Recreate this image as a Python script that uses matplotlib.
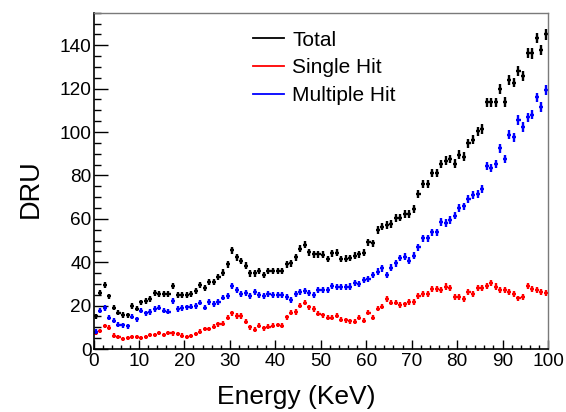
import numpy as np
import matplotlib
matplotlib.use("Agg")
import matplotlib.pyplot as plt
from matplotlib.lines import Line2D
from matplotlib.ticker import MultipleLocator

plt.rcParams['font.family'] = ['Liberation Sans', 'DejaVu Sans']

# bin edges 0..100 keV, 1 keV bins
energy = np.arange(100) + 0.5

total = [
    15.1, 25.8, 29.5, 24.2, 19.1, 16.8, 15.7, 15.5, 19.8, 18.6,
    21.5, 22.1, 22.9, 26.0, 25.5, 25.5, 25.2, 29.2, 25.0, 24.9,
    24.9, 25.4, 26.8, 29.5, 28.1, 30.8, 30.8, 33.1, 35.2, 39.1,
    45.4, 42.3, 40.6, 38.4, 34.9, 34.9, 35.9, 34.0, 36.0, 36.0,
    36.0, 36.0, 39.1, 39.5, 42.3, 46.1, 48.0, 44.6, 43.7, 43.7,
    43.4, 41.5, 44.2, 44.4, 41.5, 41.7, 41.9, 42.9, 43.7, 44.4,
    49.1, 48.8, 54.9, 56.4, 57.2, 57.7, 60.3, 60.6, 62.1, 62.1,
    64.5, 71.5, 76.1, 76.1, 81.1, 81.1, 85.2, 86.8, 87.5, 85.4,
    89.5, 88.7, 94.9, 96.4, 100.3, 101.4, 113.7, 113.7, 113.7, 119.7,
    113.9, 124.1, 122.8, 128.0, 126.0, 136.4, 136.2, 143.2, 137.8, 145.0]

single_hit = [
    7.3, 8.3, 10.6, 9.8, 6.2, 5.4, 4.8, 5.2, 5.4, 5.4,
    5.0, 5.5, 6.3, 6.3, 7.5, 6.3, 7.4, 7.2, 6.8, 6.2,
    5.7, 6.0, 6.8, 8.0, 9.2, 9.2, 10.3, 11.4, 11.7, 14.4,
    16.5, 15.2, 15.2, 12.6, 10.0, 8.9, 10.7, 9.5, 10.3, 10.8,
    11.1, 10.8, 14.6, 16.8, 17.1, 20.0, 21.4, 19.2, 18.5, 16.2,
    15.5, 14.4, 14.4, 15.4, 13.5, 13.2, 12.8, 12.5, 14.4, 13.1,
    16.8, 14.4, 18.6, 19.5, 23.2, 21.4, 21.4, 20.2, 20.6, 21.7,
    21.7, 24.6, 25.4, 25.4, 27.6, 27.5, 27.2, 28.8, 28.0, 24.1,
    24.1, 23.2, 26.2, 25.2, 28.0, 28.0, 29.2, 30.6, 28.8, 27.2,
    27.0, 26.1, 25.2, 23.3, 23.8, 29.2, 27.7, 27.2, 26.4, 26.0]

multiple_hit = [
    8.0, 17.7, 18.9, 14.4, 13.1, 11.2, 10.9, 10.5, 14.9, 13.7,
    17.7, 16.5, 17.1, 18.5, 19.1, 17.7, 17.2, 22.1, 18.5, 18.8,
    19.2, 19.5, 19.8, 21.4, 19.1, 21.8, 20.8, 21.7, 23.7, 24.5,
    29.1, 27.2, 25.4, 26.0, 24.5, 26.3, 24.8, 24.3, 25.2, 24.9,
    24.9, 24.9, 24.1, 22.6, 25.2, 26.2, 26.8, 26.0, 25.0, 27.4,
    27.4, 27.0, 28.9, 28.6, 28.4, 28.6, 28.8, 30.6, 29.8, 31.8,
    32.3, 34.1, 35.7, 37.2, 34.1, 37.5, 39.5, 41.9, 42.6, 40.7,
    42.9, 46.9, 51.1, 51.1, 53.7, 53.8, 58.5, 58.0, 59.5, 61.5,
    64.9, 65.7, 69.2, 71.1, 71.5, 73.7, 84.4, 83.4, 85.2, 92.6,
    87.5, 98.8, 97.7, 105.5, 102.3, 106.7, 108.0, 116.0, 111.5, 119.5]

labels = ["Total", "Single Hit", "Multiple Hit"]
colors = ["#000000", "#ff0000", "#0000ff"]
series = [total, single_hit, multiple_hit]

fig = plt.figure(figsize=(5.66, 4.12), dpi=100)
ax = fig.add_axes([93.5 / 566, 1 - 349 / 412, (548 - 93.5) / 566, (349 - 12.7) / 412])

for vals, col in zip(series, colors):
    v = np.asarray(vals)
    yerr = 0.6 + 0.15 * np.sqrt(v)  # statistical-style error bar size
    ax.errorbar(energy, v, xerr=0.45, yerr=yerr,
                fmt='none', ecolor=col, elinewidth=1.7, capsize=0)

ax.set_xlim(0, 100)
ax.set_ylim(0, 155)
ax.xaxis.set_major_locator(MultipleLocator(10))
ax.xaxis.set_minor_locator(MultipleLocator(2))
ax.yaxis.set_major_locator(MultipleLocator(20))
ax.yaxis.set_minor_locator(MultipleLocator(5))

ax.tick_params(axis='x', which='major', direction='in', length=6.5, width=1.0,
               labelsize=13.7, pad=3)
ax.tick_params(axis='x', which='minor', direction='in', length=3.2, width=1.0)
ax.tick_params(axis='y', which='major', direction='in', length=10, width=1.0,
               labelsize=13.7, pad=1.5)
ax.tick_params(axis='y', which='minor', direction='in', length=5, width=1.0)
ax.tick_params(top=False, right=False, which='both')

for s in ['left', 'bottom']:
    ax.spines[s].set_color('black')
    ax.spines[s].set_linewidth(1.2)
for s in ['top', 'right']:
    ax.spines[s].set_color('#7a7a7a')
    ax.spines[s].set_linewidth(1.0)

handles = [Line2D([], [], color=c, lw=1.3) for c in colors]
ax.legend(handles, labels, loc='upper left', bbox_to_anchor=(0.35, 0.947),
          frameon=False, fontsize=15, handlelength=1.5, handletextpad=0.4,
          labelspacing=0.42, borderaxespad=0, borderpad=0)

fig.text(296.5 / 566, 1 - 404 / 412, "Energy (KeV)", fontsize=19,
         ha='center', va='baseline')
fig.text(30.5 / 566, 1 - 189 / 412, "DRU", fontsize=19.5, rotation=90,
         ha='center', va='center')

fig.savefig("out.png", dpi=100)
